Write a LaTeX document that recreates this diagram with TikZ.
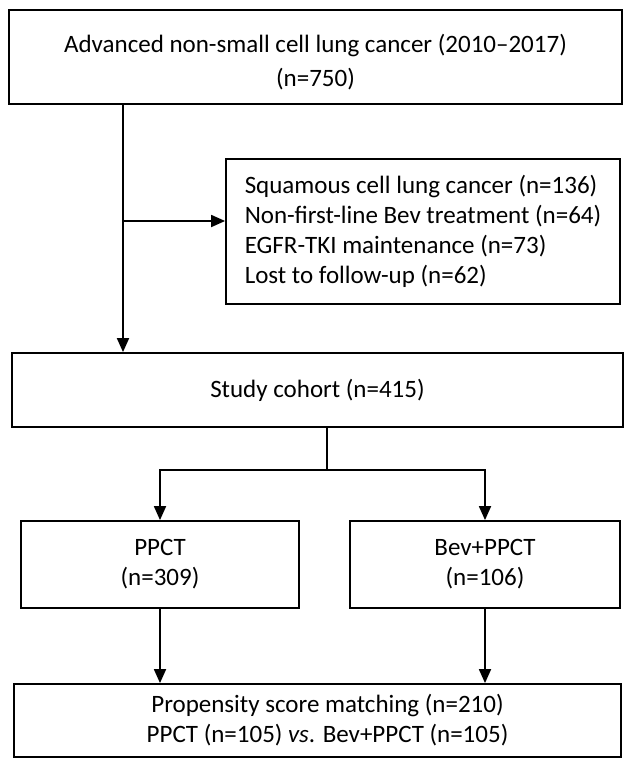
\documentclass[tikz,border=0pt]{standalone}
\usepackage{fontspec}
\setmainfont{Carlito}
\usetikzlibrary{arrows.meta,positioning}
\tikzset{
  box/.style={draw=black,line width=1.8pt,inner sep=0pt,align=center,
    font=\fontsize{25}{30}\selectfont},
  flow/.style={line width=1.8pt,-{Triangle[length=14pt,width=12pt]}},
  link/.style={line width=1.8pt}
}
\begin{document}
\begin{tikzpicture}[x=1pt,y=-1pt]
\useasboundingbox (0,0) rectangle (630,768);
% boxes
\node[box,minimum width=613pt,minimum height=94pt,font=\fontsize{25}{34}\selectfont] (adv) at (315.5,57) {\rule{0pt}{28pt}Advanced non-small cell lung cancer (2010–2017)\\(n=750)};
\node[box,minimum width=394pt,minimum height=145pt,align=left] (excl) at (423,231.5) {Squamous cell lung cancer (n=136)\\Non-first-line Bev treatment (n=64)\\EGFR-TKI maintenance (n=73)\\Lost to follow-up (n=62)};
\node[box,minimum width=611pt,minimum height=74pt] (cohort) at (317.5,390) {Study cohort (n=415)};
\node[box,minimum width=278pt,minimum height=87pt] (ppct) at (160,564.5) {PPCT\\(n=309)};
\node[box,minimum width=270pt,minimum height=87pt] (bev) at (485,564.5) {Bev+PPCT\\(n=106)};
\node[box,minimum width=607pt,minimum height=73pt] (psm) at (317.5,720.5) {\hspace*{20pt}Propensity score matching (n=210)\\\hspace*{20pt}PPCT (n=105) \textit{vs}. Bev+PPCT (n=105)};
% connectors
\coordinate (j1) at (123,221);
\coordinate (split) at (327,470);
\draw[flow] (adv.south -| j1) -- (cohort.north -| j1);
\draw[flow] (j1) -- (j1 -| excl.west);
\draw[link] (cohort.south -| split) -- (split);
\draw[flow] (split) -| (ppct);
\draw[flow] (split) -| (bev);
\draw[flow] (ppct.south) -- (ppct.south |- psm.north);
\draw[flow] (bev.south) -- (bev.south |- psm.north);
\end{tikzpicture}
\end{document}
